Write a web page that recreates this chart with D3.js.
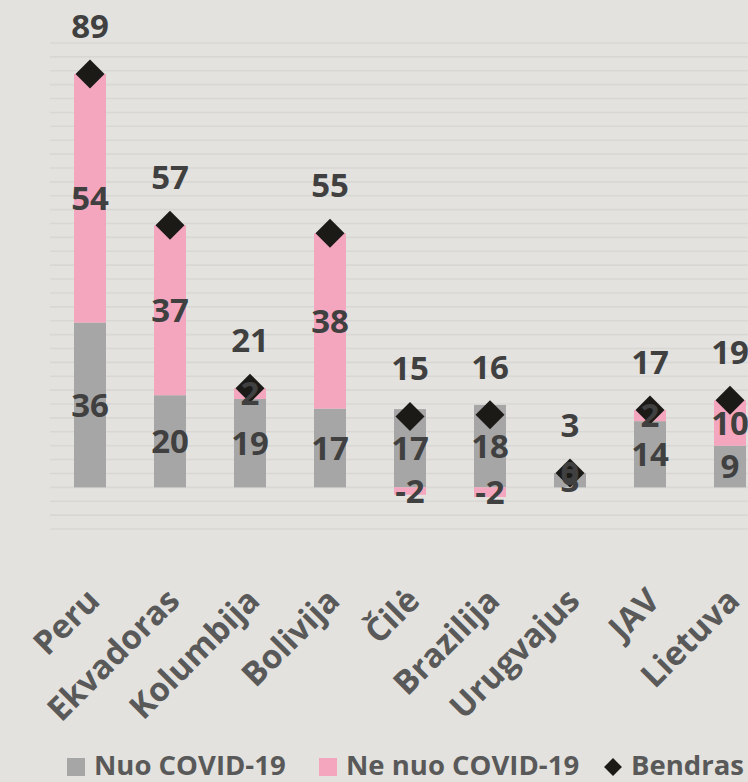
<!DOCTYPE html>
<html>
<head>
<meta charset="utf-8">
<script src="https://cdn.jsdelivr.net/npm/d3@7"></script>
<style>
  html, body { margin: 0; padding: 0; background: #e3e2de; overflow: hidden; }
  text { font-family: "Open Sans", sans-serif; font-weight: 700; }
</style>
</head>
<body>
<svg id="chart" width="748" height="782"></svg>
<script>
// values
var categories = ['Peru', 'Ekvadoras', 'Kolumbija', 'Bolivija', 'Čilė', 'Brazilija', 'Urugvajus', 'JAV', 'Lietuva'];
var nuoCovid   = [35.6, 19.9, 19.1, 17.0, 16.9, 17.8, 3.1, 14.3, 9.0];
var neNuoCovid = [53.7, 36.7, 2.3, 37.9, -1.6, -2.1, 0, 2.4, 9.8];
var bendras    = [89.3, 56.6, 21.4, 54.9, 15.3, 15.7, 3.1, 16.7, 18.8];
var seriesNames = ['Nuo COVID-19', 'Ne nuo COVID-19', 'Bendras'];
var gridTicks  = d3.range(-9, 97, 3);

var colors = { nuo: '#a6a6a6', ne: '#f5a6bf', total: '#1b1a17', label: '#404040', axis: '#595959', grid: '#d8d7d3' };

var svg = d3.select('#chart');
var fmt = d3.formatLocale({ decimal: '.', thousands: ',', grouping: [3], currency: ['', ''], minus: '-' }).format('.0f');

var x = d3.scaleBand().domain(categories).range([50, 770]).paddingInner(0.6).paddingOuter(0.3);
var y = d3.scaleLinear().domain([-9, 96]).range([529, 43]);

var rows = categories.map(function(c, i){ return { cat: c, nuo: nuoCovid[i], ne: neNuoCovid[i], total: bendras[i] }; });
var stacked = d3.stack().keys(['nuo', 'ne']).offset(d3.stackOffsetDiverging)(rows);

// gridlines
svg.append('g').selectAll('line').data(gridTicks).enter().append('line')
	.attr('x1', 50).attr('x2', 800)
	.attr('y1', function(d){ return y(d); }).attr('y2', function(d){ return y(d); })
	.attr('stroke', colors.grid).attr('stroke-width', 1.6);

// bars
var layers = svg.append('g').selectAll('g').data(stacked).enter().append('g')
	.attr('fill', function(d){ return d.key === 'nuo' ? colors.nuo : colors.ne; });
layers.selectAll('rect').data(function(d){ return d; }).enter().append('rect')
	.attr('x', function(d){ return x(d.data.cat); })
	.attr('width', x.bandwidth())
	.attr('y', function(d){ return y(Math.max(d[0], d[1])); })
	.attr('height', function(d){ return Math.abs(y(d[0]) - y(d[1])); });

// total markers
var diamond = d3.symbol().type(d3.symbolSquare).size(420);
svg.append('g').selectAll('path').data(rows).enter().append('path')
	.attr('d', diamond)
	.attr('fill', colors.total)
	.attr('transform', function(d){ return 'translate(' + (x(d.cat) + x.bandwidth()/2) + ',' + y(d.total) + ') rotate(45)'; });

// segment labels
var segLabels = [];
stacked.forEach(function(s, si){
	s.forEach(function(d, i){
		var lo = d[0], hi = d[1];
		if (lo === hi) { lo = hi = stacked[0][i][1]; } // zero value sits on top of the grey part
		segLabels.push({ cat: d.data.cat, v: d.data[s.key], mid: (lo + hi)/2 });
	});
});
svg.append('g').selectAll('text').data(segLabels).enter().append('text')
	.attr('x', function(d){ return x(d.cat) + x.bandwidth()/2; })
	.attr('y', function(d){ return y(d.mid); })
	.attr('dy', '0.36em')
	.attr('text-anchor', 'middle')
	.attr('font-size', 33)
	.attr('fill', colors.label)
	.text(function(d){ return fmt(d.v); });

// total labels
svg.append('g').selectAll('text').data(rows).enter().append('text')
	.attr('x', function(d){ return x(d.cat) + x.bandwidth()/2; })
	.attr('y', function(d){ return y(d.total) - 48; })
	.attr('dy', '0.36em')
	.attr('text-anchor', 'middle')
	.attr('font-size', 33)
	.attr('fill', colors.label)
	.text(function(d){ return fmt(d.total); });

// category labels
svg.append('g').selectAll('text').data(categories).enter().append('text')
	.attr('transform', function(d){ return 'translate(' + (x(d) + x.bandwidth()/2 - 5) + ',586) rotate(-45)'; })
	.attr('dy', '0.71em')
	.attr('text-anchor', 'end')
	.attr('font-size', 33)
	.attr('fill', colors.axis)
	.text(function(d){ return d; });

// legend
var legendX = [67, 319, 604];
var legend = svg.append('g').selectAll('g').data(seriesNames).enter().append('g')
	.attr('transform', function(d, i){ return 'translate(' + legendX[i] + ',766)'; });
legend.each(function(d, i){
	var g = d3.select(this);
	if (i < 2) {
		g.append('rect').attr('x', 0).attr('y', -8).attr('width', 18).attr('height', 18)
			.attr('fill', i === 0 ? colors.nuo : colors.ne);
	} else {
		g.append('path').attr('d', d3.symbol().type(d3.symbolSquare).size(160))
			.attr('transform', 'translate(9,1) rotate(45)').attr('fill', colors.total);
	}
	g.append('text').attr('x', i < 2 ? 27 : 27).attr('y', 9)
		.attr('font-size', 27.5).attr('fill', colors.axis).text(d);
});
</script>
</body>
</html>
